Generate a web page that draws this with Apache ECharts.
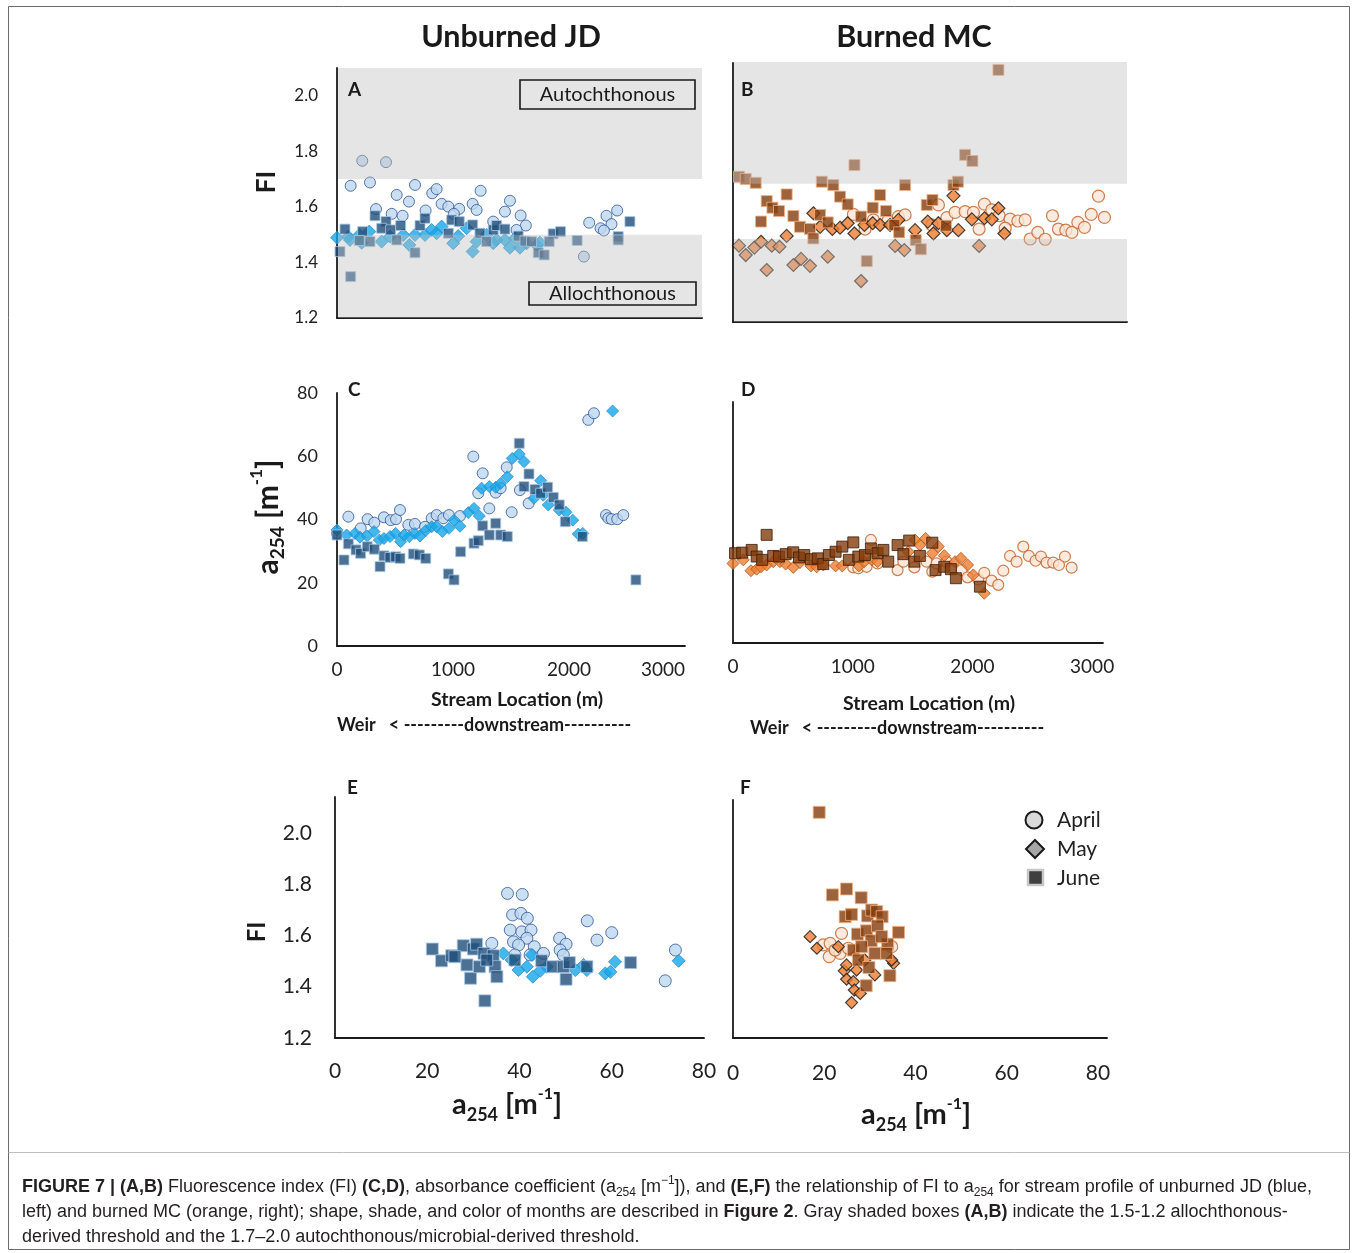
<!DOCTYPE html>
<html>
<head>
<meta charset="utf-8">
<script src="https://cdn.jsdelivr.net/npm/echarts@6/dist/echarts.min.js"></script>
<style>
  html, body { margin: 0; padding: 0; background: #fff; }
  #chart { width: 1358px; height: 1253px; }
</style>
</head>
<body>
<div id="chart"></div>
<script>
// ---- Fluorescence index (FI) along the stream, unburned JD: [location m, FI]
const jdFiApril = [[222,1.766],[431,1.761],[120,1.676],[290,1.688],[686,1.679],[525,1.643],[633,1.619],[838,1.649],[876,1.664],[343,1.592],[481,1.575],[577,1.568],[779,1.587],[920,1.611],[979,1.601],[1075,1.593],[1028,1.575],[1193,1.611],[1228,1.589],[1263,1.658],[1521,1.622],[1477,1.583],[1615,1.569],[1661,1.533],[1374,1.547],[1579,1.517],[2218,1.543],[2370,1.568],[2464,1.587],[2414,1.538],[2318,1.523],[2347,1.515],[2171,1.421]];
const jdFiMay = [[0,1.489],[100,1.493],[196,1.499],[284,1.511],[466,1.493],[583,1.499],[686,1.499],[774,1.499],[832,1.517],[876,1.505],[920,1.529],[1066,1.495],[1140,1.523],[1316,1.499],[1404,1.481],[1477,1.481],[1565,1.487],[1667,1.469],[1755,1.463],[1784,1.471],[636,1.463],[1022,1.469],[1193,1.439],[1521,1.453],[1609,1.453],[1228,1.475],[1374,1.469],[393,1.475],[114,1.481],[217,1.471]];
const jdFiJune = [[70,1.520],[226,1.511],[334,1.568],[431,1.547],[393,1.523],[472,1.517],[560,1.533],[730,1.533],[774,1.559],[1008,1.553],[1075,1.547],[979,1.505],[1193,1.535],[1257,1.505],[1374,1.517],[1404,1.533],[1477,1.520],[1594,1.495],[1901,1.503],[1966,1.511],[2576,1.547],[2473,1.493],[26,1.439],[120,1.349],[196,1.479],[290,1.475],[525,1.481],[686,1.435],[1316,1.475],[1653,1.477],[1711,1.475],[1770,1.435],[1822,1.427],[1866,1.475],[2112,1.479],[2473,1.481]];

// ---- FI along the stream, burned MC
const mcFiApril = [[929,1.589],[1019,1.536],[1083,1.569],[1194,1.565],[1276,1.581],[1328,1.587],[1585,1.623],[1534,1.551],[1650,1.577],[1714,1.596],[1791,1.599],[1855,1.596],[1940,1.626],[1899,1.536],[1997,1.605],[2054,1.584],[2138,1.572],[2198,1.565],[2254,1.569],[2100,1.539],[2293,1.500],[2352,1.524],[2409,1.499],[2465,1.584],[2511,1.536],[2568,1.532],[2615,1.524],[2661,1.560],[2712,1.542],[2764,1.589],[2820,1.655],[2866,1.578]];
const mcFiMay = [[414,1.511],[620,1.593],[672,1.544],[767,1.536],[826,1.541],[885,1.557],[937,1.520],[1014,1.551],[1078,1.557],[1135,1.551],[1212,1.551],[1276,1.569],[1405,1.532],[1503,1.563],[1547,1.520],[1585,1.557],[1650,1.532],[1739,1.532],[1701,1.656],[1843,1.571],[1940,1.575],[1997,1.571],[2048,1.611],[2094,1.520],[46,1.476],[98,1.442],[165,1.469],[216,1.490],[260,1.388],[299,1.476],[358,1.472],[466,1.406],[525,1.428],[594,1.403],[731,1.436],[988,1.348],[1251,1.475],[1322,1.460],[1899,1.475]];
const mcFiJune = [[216,1.563],[260,1.637],[304,1.613],[355,1.601],[414,1.661],[466,1.583],[517,1.544],[594,1.536],[672,1.587],[731,1.560],[826,1.653],[885,1.625],[988,1.581],[1078,1.613],[1135,1.659],[1181,1.601],[1245,1.551],[1282,1.524],[1495,1.623],[1539,1.641],[1644,1.548],[1701,1.695],[620,1.502],[1410,1.496],[46,1.725],[98,1.717],[175,1.703],[685,1.707],[774,1.695],[937,1.767],[1328,1.695],[1735,1.707],[1791,1.804],[1847,1.782],[2048,2.111],[1032,1.420],[1449,1.463]];

// ---- Absorbance a254 [1/m] along the stream, unburned JD
const jdA254April = [[0,35.6],[98,40.9],[204,37.2],[264,40.1],[322,39.0],[405,40.7],[463,39.8],[509,40.1],[543,43.0],[615,38.3],[672,38.6],[759,37.7],[816,40.4],[859,41.4],[917,40.4],[965,41.4],[1060,41.1],[1175,59.9],[1256,54.6],[1218,48.3],[1313,43.5],[1368,48.5],[1411,49.9],[1463,56.5],[1506,42.3],[1577,49.3],[1652,45.1],[2166,71.5],[2215,73.6],[2319,41.4],[2339,40.4],[2368,40.1],[2416,40.1],[2468,41.4]];
const jdA254May = [[0,36.7],[83,35.1],[155,35.6],[198,34.4],[261,34.8],[319,36.2],[365,33.5],[405,34.0],[457,34.6],[506,35.6],[549,33.0],[578,35.1],[623,34.6],[672,35.6],[715,34.8],[765,36.5],[816,37.7],[859,37.7],[908,36.2],[965,37.2],[1009,39.8],[1060,37.9],[1132,42.2],[1181,43.5],[1227,41.1],[1247,49.9],[1313,50.4],[1368,50.2],[1411,51.4],[1468,53.5],[1511,59.3],[1571,60.7],[1612,58.3],[1698,46.7],[1756,52.3],[1778,47.7],[1821,44.6],[1916,43.0],[1974,42.3],[2032,39.8],[2080,35.4],[2119,35.6],[2376,74.3]];
const jdA254June = [[0,35.1],[60,27.2],[98,32.3],[164,30.4],[204,29.3],[261,31.4],[322,30.6],[371,25.1],[405,28.5],[457,28.0],[506,28.2],[543,27.7],[658,29.1],[710,28.8],[765,27.7],[960,22.8],[1009,20.9],[1066,29.8],[1181,32.5],[1218,33.3],[1256,38.0],[1313,35.1],[1368,38.8],[1411,35.1],[1468,34.6],[1571,64.1],[1612,50.4],[1655,54.4],[1707,49.5],[1756,48.3],[1816,50.2],[1865,47.0],[1916,44.6],[1968,39.3],[2115,34.6],[2577,20.9]];

// ---- a254 along the stream, burned MC
const mcA254April = [[1005,25.1],[1047,24.8],[1116,25.3],[1152,34.2],[1208,26.4],[1375,24.2],[1423,27.0],[1515,25.1],[1617,27.0],[1665,23.7],[1701,26.4],[1784,27.0],[1910,24.2],[1960,21.8],[2049,21.1],[2099,23.3],[2160,20.7],[2216,19.3],[2258,24.0],[2314,28.9],[2369,27.0],[2425,32.0],[2472,28.9],[2528,27.3],[2573,28.7],[2620,26.7],[2675,26.7],[2723,25.9],[2773,28.7],[2829,25.0]];
const mcA254May = [[0,26.4],[86,27.6],[150,24.0],[198,24.5],[234,25.3],[281,25.9],[336,27.0],[392,27.0],[440,26.2],[503,25.1],[559,26.7],[651,25.6],[699,25.3],[754,25.9],[857,25.6],[913,25.6],[1052,25.6],[1096,27.0],[1158,27.6],[1208,27.0],[1464,30.3],[1520,34.2],[1561,32.5],[1609,34.7],[1665,29.8],[1715,32.0],[1765,29.0],[1855,27.0],[1904,28.1],[1960,25.9],[2007,22.6],[2099,16.5]];
const mcA254June = [[17,29.8],[77,30.0],[156,30.9],[198,28.7],[244,27.6],[281,35.9],[336,28.9],[384,28.7],[440,29.5],[503,30.1],[551,28.4],[595,29.2],[651,27.8],[708,28.1],[754,26.2],[801,29.2],[857,30.3],[913,32.0],[968,27.6],[1005,33.4],[1047,28.7],[1102,29.2],[1152,31.4],[1208,29.8],[1256,30.9],[1297,27.0],[1375,32.5],[1423,29.5],[1472,34.0],[1515,27.0],[1561,28.9],[1665,33.3],[1692,24.2],[1765,25.3],[1820,24.5],[1862,21.5],[2063,18.7]];

// ---- FI against a254, unburned JD: [a254, FI]
const jdPairApril = [[37.4,1.764],[40.6,1.760],[38.5,1.680],[40.3,1.686],[41.7,1.667],[38.0,1.621],[40.5,1.614],[42.5,1.621],[38.7,1.575],[41.6,1.589],[39.8,1.563],[43.2,1.556],[34.0,1.569],[45.2,1.530],[48.7,1.589],[50.1,1.566],[48.8,1.543],[49.5,1.524],[54.7,1.657],[56.8,1.582],[60.0,1.611],[73.8,1.543],[71.6,1.423],[39.0,1.524],[42.3,1.524]];
const jdPairMay = [[36.5,1.530],[38.3,1.504],[39.8,1.465],[41.6,1.478],[42.7,1.524],[42.9,1.439],[44.5,1.462],[45.9,1.478],[52.1,1.465],[53.9,1.485],[58.6,1.452],[59.7,1.458],[60.7,1.497],[74.5,1.501],[54.6,1.465]];
const jdPairJune = [[21.1,1.547],[23.1,1.501],[25.3,1.521],[27.8,1.560],[28.6,1.485],[29.4,1.433],[30.0,1.547],[30.7,1.566],[31.3,1.478],[32.3,1.530],[32.5,1.345],[34.3,1.521],[34.7,1.478],[35.1,1.439],[39.0,1.504],[44.8,1.501],[47.2,1.478],[49.5,1.478],[50.1,1.429],[50.8,1.494],[54.6,1.478],[64.1,1.494],[26.0,1.517],[32.9,1.504]];

// ---- FI against a254, burned MC
const mcPairApril = [[19.8,1.563],[21.3,1.569],[21.1,1.517],[23.8,1.608],[23.5,1.530],[25.3,1.550],[34.8,1.556],[22.4,1.543]];
const mcPairMay = [[16.9,1.595],[18.4,1.550],[23.1,1.556],[24.4,1.462],[24.9,1.429],[26.4,1.420],[26.6,1.387],[27.9,1.374],[26.0,1.338],[31.1,1.446],[35.2,1.491],[34.8,1.504],[27.1,1.465],[28.9,1.504],[24.9,1.485]];
const mcPairJune = [[18.9,2.080],[21.8,1.758],[24.9,1.781],[28.1,1.747],[24.6,1.673],[26.0,1.682],[29.5,1.676],[30.4,1.699],[31.5,1.693],[32.7,1.673],[36.3,1.612],[27.3,1.605],[29.3,1.618],[31.7,1.637],[30.3,1.579],[33.9,1.566],[26.4,1.543],[31.1,1.530],[33.7,1.530],[27.5,1.504],[29.8,1.475],[34.4,1.443],[29.2,1.404],[32.6,1.595],[28.2,1.556]];

// ---- FI source thresholds (allochthonous / autochthonous bands)
const fiBandsJD = [[1.2, 1.5], [1.7, 2.1]];
const fiBandsMC = [[1.2, 1.5], [1.7, 2.14]];

// ---- tick labels
const locationTicks = [0, 1000, 2000, 3000];
const fiTicks = [1.2, 1.4, 1.6, 1.8, 2.0];
const a254Ticks = [0, 20, 40, 60, 80];

const FONT = 'Lato, "Open Sans", sans-serif';
const CAP = '"Liberation Sans", Arial, sans-serif';
const INK = '#1a1a1a';

const chart = echarts.init(document.getElementById('chart'), null, { renderer: 'canvas' });

function onTicks(ticks) {
  return v => {
    const hit = ticks.find(t => Math.abs(t - v) < 1e-6);
    return hit === undefined ? '' : (ticks === fiTicks ? hit.toFixed(1) : String(hit));
  };
}

function axis(gridIndex, min, max, interval, label) {
  return {
    type: 'value', gridIndex, min, max, interval,
    axisLine: { show: true, onZero: false, lineStyle: { color: INK, width: 1.8 } },
    axisTick: { show: false },
    splitLine: { show: false },
    axisLabel: label ? Object.assign({ color: '#222', fontFamily: FONT }, label) : { show: false }
  };
}

const jdStyle = {
  april: { symbol: 'circle', itemStyle: { color: '#BDD7EE', borderColor: '#2F5597', borderWidth: 1 } },
  may:   { symbol: 'diamond', itemStyle: { color: '#12A7EA', borderColor: '#2F8CC9', borderWidth: 1 } },
  june:  { symbol: 'rect', itemStyle: { color: '#1F4E79', borderColor: '#A9C8E6', borderWidth: 1 } }
};
const mcStyle = {
  april: { symbol: 'circle', itemStyle: { color: '#FBE5D6', borderColor: '#BF6128', borderWidth: 1.2 } },
  may:   { symbol: 'diamond', itemStyle: { color: '#ED7D31', borderColor: '#1a1a1a', borderWidth: 1.2 } },
  june:  { symbol: 'rect', itemStyle: { color: '#843C0C', borderColor: '#F4B183', borderWidth: 1 } }
};
const mcStyleD = {
  april: mcStyle.april,
  may:   { symbol: 'diamond', itemStyle: { color: '#ED7D31', borderColor: '#B0561C', borderWidth: 1 } },
  june:  { symbol: 'rect', itemStyle: { color: '#843C0C', borderColor: '#3a1d08', borderWidth: 1 } }
};

function pts(idx, data, style, size, z) {
  return Object.assign({
    type: 'scatter', xAxisIndex: idx, yAxisIndex: idx, data,
    symbolSize: size, z: z, silent: true, animation: false
  }, { symbol: style.symbol, itemStyle: style.itemStyle });
}

// translucent gray bands laid over the FI points
function bands(idx, data) {
  return {
    type: 'custom', xAxisIndex: idx, yAxisIndex: idx, data, z: 10, silent: true,
    renderItem: (params, api) => {
      const cs = params.coordSys;
      const yHi = api.coord([0, api.value(1)])[1];
      const yLo = api.coord([0, api.value(0)])[1];
      return {
        type: 'rect',
        shape: { x: cs.x + 1, y: yHi, width: cs.width - 1, height: yLo - yHi },
        style: { fill: 'rgba(190,190,190,0.4)' }
      };
    }
  };
}

const grids = [
  { left: 337, top: 68,  width: 365, height: 250 },  // A
  { left: 733, top: 63,  width: 394, height: 259 },  // B
  { left: 337, top: 393, width: 348, height: 253 },  // C
  { left: 733, top: 402, width: 370, height: 241 },  // D
  { left: 335, top: 797, width: 369, height: 241 },  // E
  { left: 733, top: 800, width: 374, height: 238 }   // F
];

const xAxes = [
  axis(0, 0, 3210, 1000, null),
  axis(1, 0, 3040, 1000, null),
  axis(2, 0, 3000, 1000, { fontSize: 19, margin: 14, formatter: onTicks(locationTicks), alignMaxLabel: 'right' }),
  axis(3, 0, 3091, 1000, { fontSize: 19, margin: 14, formatter: onTicks(locationTicks), showMaxLabel: false }),
  axis(4, 0, 80, 20, { fontSize: 21, margin: 23, formatter: onTicks(a254Ticks) }),
  axis(5, 0, 82, 20, { fontSize: 21, margin: 25, formatter: onTicks(a254Ticks) })
];
const yAxes = [
  axis(0, 1.2, 2.1, 0.2, { fontSize: 17, margin: 19, formatter: onTicks(fiTicks) }),
  axis(1, 1.2, 2.136, 0.2, null),
  axis(2, 0, 80, 20, { fontSize: 18, margin: 19, formatter: onTicks(a254Ticks) }),
  axis(3, 0, 80, 20, null),
  axis(4, 1.2, 2.14, 0.2, { fontSize: 21, margin: 23, formatter: onTicks(fiTicks) }),
  axis(5, 1.2, 2.128, 0.2, null)
];

const series = [
  pts(0, jdFiApril, jdStyle.april, 11, 2), pts(0, jdFiMay, jdStyle.may, 13, 3), pts(0, jdFiJune, jdStyle.june, 10, 4),
  bands(0, fiBandsJD),
  pts(1, mcFiApril, mcStyle.april, 12, 2), pts(1, mcFiMay, mcStyle.may, 13, 3), pts(1, mcFiJune, mcStyle.june, 11, 4),
  bands(1, fiBandsMC),
  pts(2, jdA254April, jdStyle.april, 11, 2), pts(2, jdA254May, jdStyle.may, 12, 3), pts(2, jdA254June, jdStyle.june, 10, 4),
  pts(3, mcA254April, mcStyleD.april, 11, 2), pts(3, mcA254May, mcStyleD.may, 12, 3), pts(3, mcA254June, mcStyleD.june, 11, 4),
  pts(4, jdPairApril, jdStyle.april, 12, 2), pts(4, jdPairMay, jdStyle.may, 13, 3), pts(4, jdPairJune, jdStyle.june, 12, 4),
  pts(5, mcPairApril, mcStyle.april, 12, 2), pts(5, mcPairMay, mcStyle.may, 12, 3), pts(5, mcPairJune, mcStyle.june, 12, 4)
];

function txt(x, y, text, size, extra) {
  return {
    type: 'text', x, y, silent: true, z: 50,
    style: Object.assign({ text, fontSize: size, fontFamily: FONT, fill: INK, align: 'left', verticalAlign: 'middle' }, extra || {})
  };
}
const a254Rich = size => ({
  a: { fontSize: size, fontWeight: 'bold', fontFamily: FONT, fill: INK, lineHeight: size * 1.3 },
  s: { fontSize: Math.round(size * 0.62), fontWeight: 'bold', fontFamily: FONT, fill: INK, lineHeight: Math.round(size * 0.85), verticalAlign: 'bottom' },
  p: { fontSize: Math.round(size * 0.55), fontWeight: 'bold', fontFamily: FONT, fill: INK, lineHeight: Math.round(size * 0.75), verticalAlign: 'top' }
});
const a254Text = '{a|a}{s|254}{a| [m}{p|-1}{a|]}';

const capRich = {
  t: { fontSize: 18, fontFamily: CAP, fill: '#231F20', lineHeight: 24 },
  b: { fontSize: 18, fontFamily: CAP, fontWeight: 'bold', fill: '#231F20', lineHeight: 24 },
  s: { fontSize: 12, fontFamily: CAP, fill: '#231F20', lineHeight: 15, verticalAlign: 'bottom' },
  p: { fontSize: 12, fontFamily: CAP, fill: '#231F20', lineHeight: 15, verticalAlign: 'top' }
};
const capLines = [
  '{b|FIGURE 7 | (A,B)}{t| Fluorescence index (FI) }{b|(C,D)}{t|, absorbance coefficient (a}{s|254}{t| [m}{p|\u22121}{t|]), and }{b|(E,F)}{t| the relationship of FI to a}{s|254}{t| for stream profile of unburned JD (blue,}',
  '{t|left) and burned MC (orange, right); shape, shade, and color of months are described in }{b|Figure 2}{t|. Gray shaded boxes }{b|(A,B)}{t| indicate the 1.5-1.2 allochthonous-}',
  '{t|derived threshold and the 1.7\u20132.0 autochthonous/microbial-derived threshold.}'
];

const legendRows = [
  { name: 'April', y: 820 },
  { name: 'May', y: 849 },
  { name: 'June', y: 878 }
];

const graphic = [
  // frame and caption divider
  { type: 'rect', silent: true, z: 0, shape: { x: 8.5, y: 6.5, width: 1341, height: 1243 }, style: { fill: 'none', stroke: '#6b6b6b', lineWidth: 1 } },
  { type: 'line', silent: true, z: 0, shape: { x1: 8.5, y1: 1152.5, x2: 1349.5, y2: 1152.5 }, style: { stroke: '#bdbdbd', lineWidth: 1 } },

  // column titles
  txt(511, 37, 'Unburned JD', 30.5, { fontWeight: 'bold', align: 'center' }),
  txt(914, 37, 'Burned MC', 30.5, { fontWeight: 'bold', align: 'center' }),

  // panel letters
  txt(348, 90, 'A', 19, { fontWeight: 'bold' }),
  txt(741, 90, 'B', 19, { fontWeight: 'bold' }),
  txt(348, 390, 'C', 19, { fontWeight: 'bold' }),
  txt(741, 390, 'D', 19, { fontWeight: 'bold' }),
  txt(347, 788, 'E', 19, { fontWeight: 'bold' }),
  txt(740, 788, 'F', 19, { fontWeight: 'bold' }),

  // threshold boxes in panel A
  { type: 'rect', silent: true, z: 40, shape: { x: 520, y: 80, width: 175, height: 29 }, style: { fill: 'none', stroke: INK, lineWidth: 1.6 } },
  txt(607.5, 95, 'Autochthonous', 20, { align: 'center' }),
  { type: 'rect', silent: true, z: 40, shape: { x: 529, y: 282, width: 167, height: 23 }, style: { fill: 'none', stroke: INK, lineWidth: 1.6 } },
  txt(612.5, 293.5, 'Allochthonous', 20, { align: 'center' }),

  // y-axis names
  Object.assign(txt(267, 182, 'FI', 26, { fontWeight: 'bold', align: 'center' }), { rotation: Math.PI / 2 }),
  Object.assign(txt(268, 517, a254Text, 30, { align: 'center', rich: a254Rich(30) }), { rotation: Math.PI / 2 }),
  Object.assign(txt(257, 932, 'FI', 24, { fontWeight: 'bold', align: 'center' }), { rotation: Math.PI / 2 }),

  // x-axis names, stream profiles
  txt(517, 700, 'Stream Location (m)', 19.5, { fontWeight: 'bold', align: 'center' }),
  txt(337, 725, 'Weir   < ---------downstream----------', 18, { fontWeight: 'bold' }),
  txt(929, 704, 'Stream Location (m)', 19.5, { fontWeight: 'bold', align: 'center' }),
  txt(750, 728, 'Weir   < ---------downstream----------', 18, { fontWeight: 'bold' }),

  // x-axis names, FI vs a254
  txt(507, 1105, a254Text, 29, { align: 'center', rich: a254Rich(29) }),
  txt(916, 1115, a254Text, 29, { align: 'center', rich: a254Rich(29) }),

  // month legend
  { type: 'circle', silent: true, z: 40, shape: { cx: 1034, cy: legendRows[0].y, r: 8.5 }, style: { fill: '#D9D9D9', stroke: INK, lineWidth: 2 } },
  { type: 'polygon', silent: true, z: 40, shape: { points: [[1035, 840], [1044, 849], [1035, 858], [1026, 849]] }, style: { fill: '#A6A6A6', stroke: INK, lineWidth: 2 } },
  { type: 'rect', silent: true, z: 40, shape: { x: 1028, y: 870, width: 15, height: 15 }, style: { fill: '#3F3F3F', stroke: '#C8C8C8', lineWidth: 2.5 } },
  ...legendRows.map(r => txt(1057, r.y, r.name, 21, { fill: '#222' })),

  // caption
  ...capLines.map((line, i) => txt(22, 1187 + i * 25, line, 18, { rich: capRich, fontFamily: CAP }))
];

chart.setOption({
  animation: false,
  backgroundColor: '#ffffff',
  grid: grids,
  xAxis: xAxes,
  yAxis: yAxes,
  series,
  graphic
});
</script>
</body>
</html>
